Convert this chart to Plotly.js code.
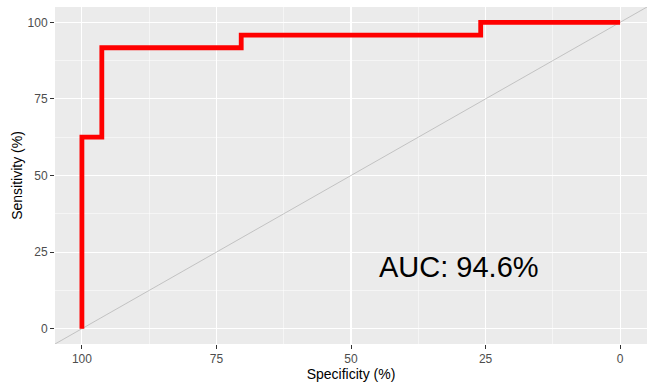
<!DOCTYPE html>
<html>
<head>
<meta charset="utf-8">
<script src="https://cdn.plot.ly/plotly-3.0.1.min.js"></script>
<style>html,body{margin:0;padding:0;background:#fff;}#chart{width:655px;height:388px;}</style>
</head>
<body>
<div id="chart"></div>
<script>
// ROC curve points (specificity %, sensitivity %)
const specificity = [100, 100, 96.3, 96.3, 70.4, 70.4, 25.9, 25.9, 0];
const sensitivity = [0, 62.5, 62.5, 91.7, 91.7, 95.8, 95.8, 100, 100];
// reference diagonal
const diagSpec = [105, -5];
const diagSens = [-5, 105];
const tickVals = [100, 75, 50, 25, 0];
const tickText = ["100", "75", "50", "25", "0"];
const yTickVals = [0, 25, 50, 75, 100];
const aucLabel = "AUC: 94.6%";
const aucPos = {x: 30, y: 20};

const font = "Liberation Sans, Arial, sans-serif";

const traces = [
  {x: diagSpec, y: diagSens, mode: "lines", line: {color: "#a6a6a6", width: 0.6}, hoverinfo: "skip", showlegend: false},
  {x: specificity, y: sensitivity, mode: "lines", line: {color: "#ff0000", width: 4.8, shape: "linear"}, showlegend: false}
];

const layout = {
  width: 655, height: 388,
  margin: {l: 55, r: 8, t: 7, b: 44},
  paper_bgcolor: "#ffffff",
  plot_bgcolor: "#ebebeb",
  font: {family: font, color: "#4d4d4d", size: 12},
  xaxis: {
    range: [105, -5], tickvals: tickVals, ticktext: tickText,
    showgrid: true, gridcolor: "#ffffff", gridwidth: 1.1,
    minor: {dtick: 12.5, tick0: 0, showgrid: true, gridcolor: "#ffffff", gridwidth: 0.5, ticks: ""},
    zeroline: false, showline: false,
    ticks: "outside", ticklen: 4, tickcolor: "#333333", tickwidth: 1,
    tickfont: {size: 12, color: "#4d4d4d"},
    title: {text: "Specificity (%)", font: {size: 14, color: "#000000"}, standoff: 1}
  },
  yaxis: {
    range: [-5, 105], tickvals: yTickVals,
    showgrid: true, gridcolor: "#ffffff", gridwidth: 1.1,
    minor: {dtick: 12.5, tick0: 0, showgrid: true, gridcolor: "#ffffff", gridwidth: 0.5, ticks: ""},
    zeroline: false, showline: false,
    ticks: "outside", ticklen: 4, tickcolor: "#333333", tickwidth: 1,
    tickfont: {size: 12, color: "#4d4d4d"},
    title: {text: "Sensitivity (%)", font: {size: 14, color: "#000000"}, standoff: 1}
  },
  annotations: [{
    x: aucPos.x, y: aucPos.y, xref: "x", yref: "y", text: aucLabel, showarrow: false,
    font: {size: 29, color: "#000000", family: font}, xanchor: "center", yanchor: "middle"
  }]
};

Plotly.newPlot("chart", traces, layout, {displayModeBar: false, staticPlot: true});
</script>
</body>
</html>
